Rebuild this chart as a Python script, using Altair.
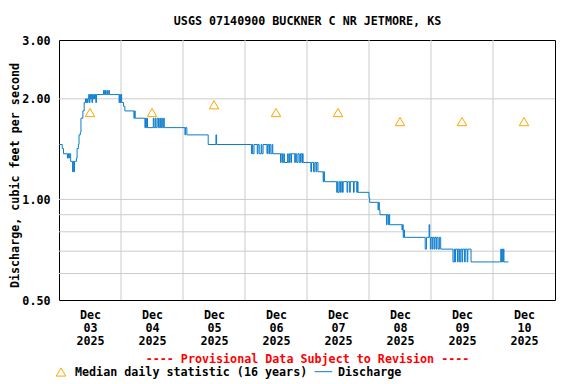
import altair as alt
import pandas as pd

# ---------------- data ----------------
# discharge step points: hours since 2025-12-03 00:00, value in cfs
flow_hours = [
    0.0, 1.25, 1.75, 3.25, 3.5, 3.75, 4.0, 4.5, 5.25, 5.5, 5.75, 6.0, 6.75, 7.0, 7.5, 7.75, 8.25, 8.5, 9.25, 9.75,
    10.25, 10.5, 10.75, 11.0, 11.25, 11.5, 11.75, 12.0, 12.25, 12.5, 12.75, 13.0, 13.25, 13.5, 13.75, 14.0, 14.25, 14.5,
    17.25, 17.5, 17.75, 18.0, 18.5, 18.75, 19.25, 19.5,
    23.25, 23.5, 23.75, 24.0, 24.25, 25.0, 25.5, 29.0, 29.25, 29.5,
    33.25, 33.5, 33.75, 34.0, 34.25, 36.5, 36.75, 37.25, 37.5, 38.0, 38.5, 39.0, 39.25, 39.75, 40.0, 40.5, 40.75,
    48.75, 49.0, 49.5, 57.75, 60.75, 61.0,
    74.5, 74.75, 75.0, 75.5, 76.75, 77.0, 77.5, 78.25, 78.5, 79.0, 80.5, 80.75, 81.25, 81.5, 82.0, 82.5, 82.75,
    85.75, 86.0, 86.5, 87.0, 87.25, 88.5, 88.75, 89.25, 89.75, 90.0, 91.25, 91.5, 92.0, 92.5, 93.0, 93.5, 94.0, 94.25, 94.5,
    97.5, 97.75, 98.5, 99.0, 99.5, 99.75, 100.25, 102.25, 102.5, 102.75,
    107.5, 107.75, 108.0, 108.5, 109.0, 109.25, 109.75, 110.0, 111.5, 111.75, 112.5, 112.75, 114.0, 114.25, 115.25, 115.5, 115.75,
    120.0, 120.25, 123.5, 123.75, 124.0, 124.25, 126.75, 127.0, 127.5, 127.75, 128.0,
    132.75, 133.0, 133.25, 133.5, 133.75,
    141.75, 142.25, 143.25, 143.5, 143.75, 144.0, 144.5, 144.75, 145.25, 145.5, 146.0, 146.25, 146.75, 147.25, 147.75,
    152.5, 153.0, 153.25, 153.5, 154.25, 154.5, 155.0, 155.5, 156.0, 156.25, 157.0, 157.25, 158.0, 158.25, 159.5,
    171.0, 171.25, 171.5, 171.75, 172.0, 172.25, 174.0,
]
flow_cfs = [
    1.46, 1.42, 1.37, 1.33, 1.37, 1.33, 1.37, 1.30, 1.21, 1.30, 1.21, 1.30, 1.33, 1.42, 1.46, 1.56, 1.59, 1.75, 1.84, 1.95,
    2.00, 1.95, 2.00, 1.95, 2.00, 2.06, 1.95, 2.06, 2.00, 2.06, 1.95, 2.06, 2.00, 2.06, 2.00, 2.06, 1.95, 2.06,
    2.12, 2.06, 2.12, 2.06, 2.12, 2.06, 2.12, 2.06,
    1.95, 2.06, 1.95, 2.06, 1.95, 1.90, 1.84, 1.75, 1.84, 1.75,
    1.64, 1.75, 1.64, 1.75, 1.64, 1.75, 1.64, 1.75, 1.64, 1.75, 1.64, 1.75, 1.64, 1.75, 1.64, 1.75, 1.64,
    1.56, 1.64, 1.56, 1.46, 1.56, 1.46,
    1.37, 1.46, 1.37, 1.46, 1.37, 1.46, 1.37, 1.46, 1.37, 1.46, 1.37, 1.46, 1.37, 1.46, 1.37, 1.46, 1.37,
    1.29, 1.37, 1.29, 1.37, 1.29, 1.37, 1.29, 1.37, 1.29, 1.37, 1.29, 1.37, 1.29, 1.37, 1.29, 1.37, 1.29, 1.37, 1.29,
    1.21, 1.29, 1.21, 1.29, 1.21, 1.29, 1.21, 1.13, 1.21, 1.13,
    1.05, 1.13, 1.05, 1.13, 1.05, 1.13, 1.05, 1.13, 1.05, 1.13, 1.05, 1.13, 1.05, 1.13, 1.05, 1.13, 1.05,
    1.01, 0.98, 0.93, 0.98, 0.93, 0.90, 0.84, 0.90, 0.84, 0.90, 0.84,
    0.81, 0.84, 0.77, 0.81, 0.77,
    0.71, 0.77, 0.84, 0.77, 0.71, 0.77, 0.71, 0.77, 0.71, 0.77, 0.71, 0.77, 0.71, 0.77, 0.71,
    0.65, 0.71, 0.65, 0.71, 0.65, 0.71, 0.65, 0.71, 0.65, 0.71, 0.65, 0.71, 0.65, 0.71, 0.65,
    0.71, 0.65, 0.71, 0.65, 0.71, 0.65, 0.65,
]
median_days = ["2025-12-03", "2025-12-04", "2025-12-05", "2025-12-06",
               "2025-12-07", "2025-12-08", "2025-12-09", "2025-12-10"]
median_cfs = [1.82, 1.82, 1.92, 1.82, 1.82, 1.71, 1.71, 1.71]
grid_days = ["2025-12-04", "2025-12-05", "2025-12-06", "2025-12-07",
             "2025-12-08", "2025-12-09", "2025-12-10"]
grid_cfs = [0.6, 0.7, 0.8, 0.9, 1.0, 2.0]
y_label_values = [0.5, 1.0, 2.0, 3.0]

TITLE = "USGS 07140900 BUCKNER C NR JETMORE, KS"
Y_TITLE = "Discharge, cubic feet per second"
PROVISIONAL = "---- Provisional Data Subject to Revision ----"
LEG_MEDIAN = "Median daily statistic (16 years)"
LEG_FLOW = "Discharge"

# ---------------- build tables ----------------
def ms(ts):
    return int(pd.Timestamp(ts).value // 10**6)

base = pd.Timestamp("2025-12-03T00:00:00Z")
flow = pd.DataFrame({"t": [ms(base + pd.Timedelta(hours=h)) for h in flow_hours], "q": flow_cfs})
med = pd.DataFrame({"t": [ms(d + "T12:00:00Z") for d in median_days], "q": median_cfs})
vgrid = pd.DataFrame({"t": [ms(d + "T00:00:00Z") for d in grid_days]})
hgrid = pd.DataFrame({"q": grid_cfs})
noon_ticks = [ms(d + "T12:00:00Z") for d in median_days]

FONT = "DejaVu Sans Mono"
FS = 11.7
GRID = "#cccccc"
BLUE = "#0b7dcc"
ORANGE = "#ffa500"

xscale = alt.Scale(type="utc", domain=[ms(base), ms("2025-12-11T00:00:00Z")], nice=False)
yscale = alt.Scale(type="log", domain=[0.5, 3.0], nice=False)

xaxis = alt.Axis(
    values=noon_ticks,
    labelExpr="[utcFormat(datum.value, '%b'), utcFormat(datum.value, '%d'), utcFormat(datum.value, '%Y')]",
    grid=False, ticks=False, domain=False, labelFlush=False, labelOverlap=False,
    labelBaseline="alphabetic", labelPadding=18, labelLineHeight=13,
    labelFont=FONT, labelFontSize=FS, labelFontWeight="bold", labelColor="black",
    title=None,
)
yaxis = alt.Axis(
    values=y_label_values, format=".2f", grid=False, ticks=False, domain=False,
    labelPadding=9, labelFont=FONT, labelFontSize=FS, labelFontWeight="bold", labelColor="black",
    labelOverlap=False,
    title=Y_TITLE, titleFont=FONT, titleFontSize=FS, titleFontWeight="bold", titleColor="black",
    titleX=-41, titleY=135, titleAngle=270, titleAlign="center", titleBaseline="alphabetic",
)

vrules = alt.Chart(vgrid).mark_rule(color=GRID, strokeWidth=1).encode(
    x=alt.X("t:T", scale=xscale, axis=xaxis)
)
hrules = alt.Chart(hgrid).mark_rule(color=GRID, strokeWidth=1).encode(
    y=alt.Y("q:Q", scale=yscale, axis=yaxis)
)
line = alt.Chart(flow).mark_line(interpolate="step-after", color=BLUE, strokeWidth=1).encode(
    x=alt.X("t:T", scale=xscale, title=None),
    y=alt.Y("q:Q", scale=yscale, title=Y_TITLE),
)
pts = alt.Chart(med).mark_point(shape="triangle-up", filled=False, size=90, color=ORANGE,
                                strokeWidth=1, opacity=1).encode(
    x=alt.X("t:T", scale=xscale, title=None),
    y=alt.Y("q:Q", scale=yscale, title=Y_TITLE),
)

one = pd.DataFrame({"a": [0]})
txt_kw = dict(font=FONT, fontSize=FS, fontWeight="bold", baseline="alphabetic")
title = alt.Chart(one).mark_text(text=TITLE, color="black", align="center", **txt_kw).encode(
    x=alt.value(248.5), y=alt.value(-15.5))
prov = alt.Chart(one).mark_text(text=PROVISIONAL, color="#ff0000", align="center", **txt_kw).encode(
    x=alt.value(248.5), y=alt.value(323))
leg_tri = alt.Chart(one).mark_point(shape="triangle-up", filled=False, size=90, color=ORANGE,
                                    strokeWidth=1, opacity=1).encode(x=alt.value(2), y=alt.value(332))
leg_med = alt.Chart(one).mark_text(text=LEG_MEDIAN, color="black", align="left", **txt_kw).encode(
    x=alt.value(16), y=alt.value(335.5))
leg_line = alt.Chart(one).mark_rule(color=BLUE, strokeWidth=1).encode(
    x=alt.value(255.6), x2=alt.value(273.3), y=alt.value(331.7))
leg_flow = alt.Chart(one).mark_text(text=LEG_FLOW, color="black", align="left", **txt_kw).encode(
    x=alt.value(279), y=alt.value(335.5))

chart = alt.layer(vrules, hrules, line, pts, title, prov, leg_tri, leg_med, leg_line, leg_flow).properties(
    width=496, height=260,
    autosize=alt.AutoSizeParams(type="none"),
    padding={"left": 51, "top": 32, "right": 13, "bottom": 84},
    background="white",
).configure_view(stroke="black", strokeWidth=1)

chart.save("out.html", embed_options={"renderer": "svg", "actions": False})
